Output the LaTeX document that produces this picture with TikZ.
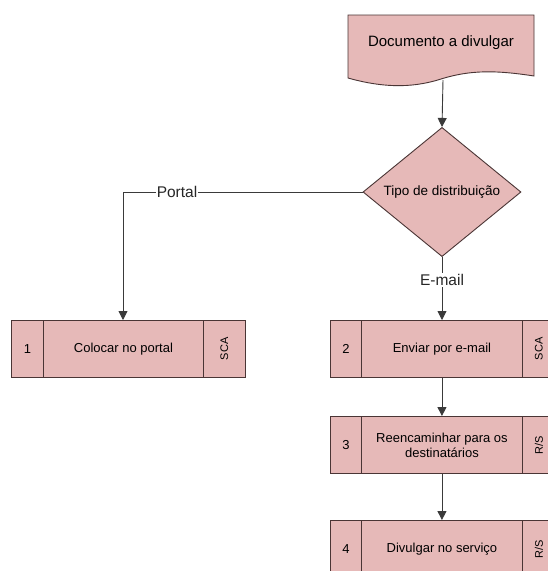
\documentclass[tikz,border=0pt]{standalone}
\usepackage{fontspec}
\setmainfont{Liberation Sans}
\usetikzlibrary{shapes.geometric,arrows.meta}
\definecolor{boxfill}{HTML}{E6B9B8}
\definecolor{boxline}{HTML}{4A3535}
\definecolor{arrline}{HTML}{3A3A3A}
\tikzset{
  cell/.style={draw=boxline, fill=boxfill, line width=0.9pt, inner sep=0pt, anchor=north west, align=center, font=\fontsize{13}{15}\selectfont},
  decision/.style={diamond, draw=boxline, fill=boxfill, line width=0.9pt, inner sep=0pt, minimum width=158pt, minimum height=94pt, font=\fontsize{13.5}{15}\selectfont},
  conn/.style={draw=arrline, line width=0.9pt, -{Triangle[length=9pt,width=9pt]}},
  lbl/.style={fill=white, inner sep=1pt, font=\fontsize{15.5}{17}\selectfont, text=black!85}
}
\newcommand{\sidelbl}[1]{\rotatebox{90}{\fontsize{11}{13}\selectfont #1}}
\begin{document}
\begin{tikzpicture}[x=1pt,y=-1pt]
\useasboundingbox (0,0) rectangle (548,571);
\clip (0,0) rectangle (548,571);
\fill[white] (0,0) rectangle (548,571);

% document shape
\path[draw=boxline, fill=boxfill, line width=0.9pt]
  (348,15) -- (534,15) -- (534,76)
  .. controls (495,70) and (470,70) .. (441,79)
  .. controls (410,89) and (380,87) .. (348,78) -- cycle;
\node[font=\fontsize{15}{17}\selectfont] (doc) at (441,43) {Documento a divulgar};
\coordinate (docb) at (443,80);

% decision
\node[decision] (dec) at (442,192) {Tipo de distribuição};

% box 1
\node[cell, minimum width=32pt, minimum height=57pt] (n1) at (11,320) {1};
\node[cell, minimum width=160pt, minimum height=57pt] (b1) at (43,320) {Colocar no portal};
\node[cell, minimum width=42pt, minimum height=57pt] (s1) at (203,320) {\sidelbl{SCA}};

% box 2
\node[cell, minimum width=31pt, minimum height=57pt] (n2) at (330,320) {2};
\node[cell, minimum width=161pt, minimum height=57pt] (b2) at (361,320) {Enviar por e-mail};
\node[cell, minimum width=33pt, minimum height=57pt] (s2) at (522,320) {\sidelbl{SCA}};

% box 3
\node[cell, minimum width=31pt, minimum height=57pt] (n3) at (330,416) {3};
\node[cell, minimum width=161pt, minimum height=57pt] (b3) at (361,416) {Reencaminhar para os\\destinatários};
\node[cell, minimum width=33pt, minimum height=57pt] (s3) at (522,416) {\sidelbl{R/S}};

% box 4
\node[cell, minimum width=31pt, minimum height=57pt] (n4) at (330,520) {4};
\node[cell, minimum width=161pt, minimum height=57pt] (b4) at (361,520) {Divulgar no serviço};
\node[cell, minimum width=33pt, minimum height=57pt] (s4) at (522,520) {\sidelbl{R/S}};

% connectors
\draw[conn] (docb) -- (dec.north);
\coordinate (pc) at (123,192);
\draw[conn] (dec.west) -- (pc) -- (pc |- b1.north);
\node[lbl] (portal) at (177,192) {Portal};
\draw[conn] (dec.south) -- (dec.south |- b2.north);
\node[lbl] (email) at (442,280) {E-mail};
\draw[conn] (b2.south) -- (b3.north);
\draw[conn] (b3.south) -- (b4.north);
\end{tikzpicture}
\end{document}
